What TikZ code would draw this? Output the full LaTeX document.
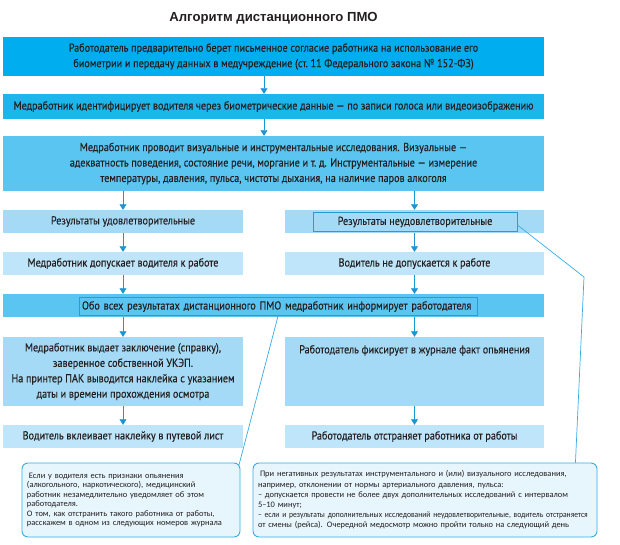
\documentclass[tikz,border=0pt]{standalone}
\usepackage{fontspec}
\setmainfont{PT Sans}[FakeStretch=0.88, FakeBold=0.25]
\newfontfamily\titlefont{Liberation Sans}
\newfontfamily\notefont{Carlito}
\newfontfamily\notenarrow{Carlito}[FakeStretch=0.9]
\usetikzlibrary{arrows.meta}

\definecolor{ink}{HTML}{231F20}
\definecolor{pmoA}{HTML}{00AEEF}
\definecolor{pmoB}{HTML}{1CB5EC}
\definecolor{pmoC}{HTML}{5BC5F1}
\definecolor{pmoD}{HTML}{A4DAF6}
\definecolor{pmoE}{HTML}{BEE5F9}
\definecolor{arrowblue}{HTML}{1C95D3}
\definecolor{frameblue}{HTML}{2A9BD6}
\definecolor{notefill}{HTML}{E7F5FD}
\definecolor{noteedge}{HTML}{35ACE4}

\begin{document}
\begin{tikzpicture}[x=1bp, y=-1bp,
    box/.style={rectangle, inner sep=0pt, align=center, text=ink, font=\fontsize{11.6}{15.5}\selectfont},
    wide/.style={box, minimum width=541bp},
    half/.style={box, minimum width=240bp},
    halfr/.style={box, minimum width=259bp},
    frame/.style={draw=frameblue, line width=0.8bp, inner xsep=3bp, minimum height=18.5bp},
    arr/.style={draw=arrowblue, line width=0.8bp, -{Triangle[width=7bp,length=5.5bp]}},
    note/.style={draw=noteedge, fill=notefill, rounded corners=6bp, line width=0.9bp, align=left,
        inner xsep=5bp, text=ink, font=\notefont\fontsize{8.45}{9.4}\selectfont},
    callout/.style={draw=noteedge, line width=0.7bp}]
    \useasboundingbox (0,0) rectangle (620,545);

    % Title
    \node[text=ink, font=\titlefont\bfseries\fontsize{13.2}{15}\selectfont] (title) at (273.5,18) {Алгоритм дистанционного ПМО};

    % Full-width steps
    \node[wide, fill=pmoA, minimum height=39bp] (consent) at (273.5,56.5) {Работодатель предварительно берет письменное согласие работника на использование его\\ биометрии и передачу данных в медучреждение (ст.~11 Федерального закона №~152-ФЗ)};
    \node[wide, fill=pmoB, minimum height=25bp] (ident) at (273.5,106.5) {Медработник идентифицирует водителя через биометрические данные — по записи голоса или видеоизображению};
    \node[wide, fill=pmoC, minimum height=55bp] (exam) at (273.5,163.5) {Медработник проводит визуальные и инструментальные исследования. Визуальные —\\ адекватность поведения, состояние речи, моргание и т.~д. Инструментальные — измерение\\ температуры, давления, пульса, чистоты дыхания, на наличие паров алкоголя};

    % Results
    \node[half, fill=pmoD, minimum height=23bp] (ok) at (123,221.5) {Результаты удовлетворительные};
    \node[halfr, fill=pmoD, minimum height=23bp] (badbox) at (414.5,221.5) {};
    \node[box, frame, minimum width=204bp] (bad) at (415,222) {Результаты неудовлетворительные};

    % Admission
    \node[half, fill=pmoE, minimum height=23bp] (admit) at (123,263.5) {Медработник допускает водителя к работе};
    \node[halfr, fill=pmoE, minimum height=23bp] (deny) at (414.5,263.5) {Водитель не допускается к работе};

    % Employer is informed
    \node[wide, fill=pmoC, minimum height=23bp] (informbox) at (273.5,305.5) {};
    \node[box, frame, text width=392bp, align=left] (inform) at (278,306.5) {Обо всех результатах дистанционного ПМО медработник информирует работодателя};

    % Left and right branches
    \node[half, fill=pmoD, minimum height=69bp] (report) at (123,371.5) {Медработник выдает заключение (справку),\\ заверенное собственной УКЭП.\\ На принтер ПАК выводится наклейка с указанием\\ даты и времени прохождения осмотра};
    \node[halfr, fill=pmoD] (record) at (414.5,371.5) {\parbox[c][69bp][t]{259bp}{\centering\vspace{8bp}Работодатель фиксирует в журнале факт опьянения}};
    \node[half, fill=pmoE, minimum height=23bp] (sticker) at (123,436.5) {Водитель вклеивает наклейку в путевой лист};
    \node[halfr, fill=pmoE, minimum height=23bp] (remove) at (414.5,436.5) {Работодатель отстраняет работника от работы};

    % Notes
    \node[note, minimum height=74bp, text width=208bp] (leftnote) at (131,500) {\hspace{2bp}Если у водителя есть признаки опьянения\\ (алкогольного, наркотического), медицинский\\ работник незамедлительно уведомляет об этом\\ работодателя.\\ О том, как отстранить такого работника от работы,\\ расскажем в одном из следующих номеров журнала};
    \node[note, minimum height=74bp, text width=334bp, font=\notefont\fontsize{8.45}{10.2}\selectfont] (rightnote) at (425,500) {\hspace{2bp}При негативных результатах инструментального и (или) визуального исследования,\\ например, отклонении от нормы артериального давления, пульса:\\ – допускается провести не более двух дополнительных исследований с интервалом\\ 5–10 минут;\\ {\notenarrow – если и результаты дополнительных исследований неудовлетворительные, водитель отстраняется}\\ от смены (рейса). Очередной медосмотр можно пройти только на следующий день};

    % Arrows
    \draw[arr] ([xshift=-9.5bp]consent.south) -- ([xshift=-9.5bp]ident.north);
    \draw[arr] ([xshift=-9.5bp]ident.south) -- ([xshift=-9.5bp]exam.north);
    \draw[arr] (exam.south -| ok.north) -- (ok.north);
    \draw[arr] (exam.south -| badbox.north) -- (badbox.north);
    \foreach \a/\b in {ok/admit, badbox/deny, report/sticker, record/remove}
        \draw[arr] (\a.south) -- (\b.north);
    \draw[arr] (admit.south) -- (admit.south |- informbox.north);
    \draw[arr] (deny.south) -- (deny.south |- informbox.north);
    \draw[arr] (informbox.south -| report.north) -- (report.north);
    \draw[arr] (informbox.south -| record.north) -- (record.north);

    % Callout lines
    \coordinate (bend) at (584,277);
    \draw[callout] ([yshift=-3bp]bad.east) -- (bend) -- ([xshift=-22bp]rightnote.north east);
    \draw[callout] (inform.south) -- ([xshift=-1.5bp,yshift=-2.5bp]leftnote.north east);
\end{tikzpicture}
\end{document}
